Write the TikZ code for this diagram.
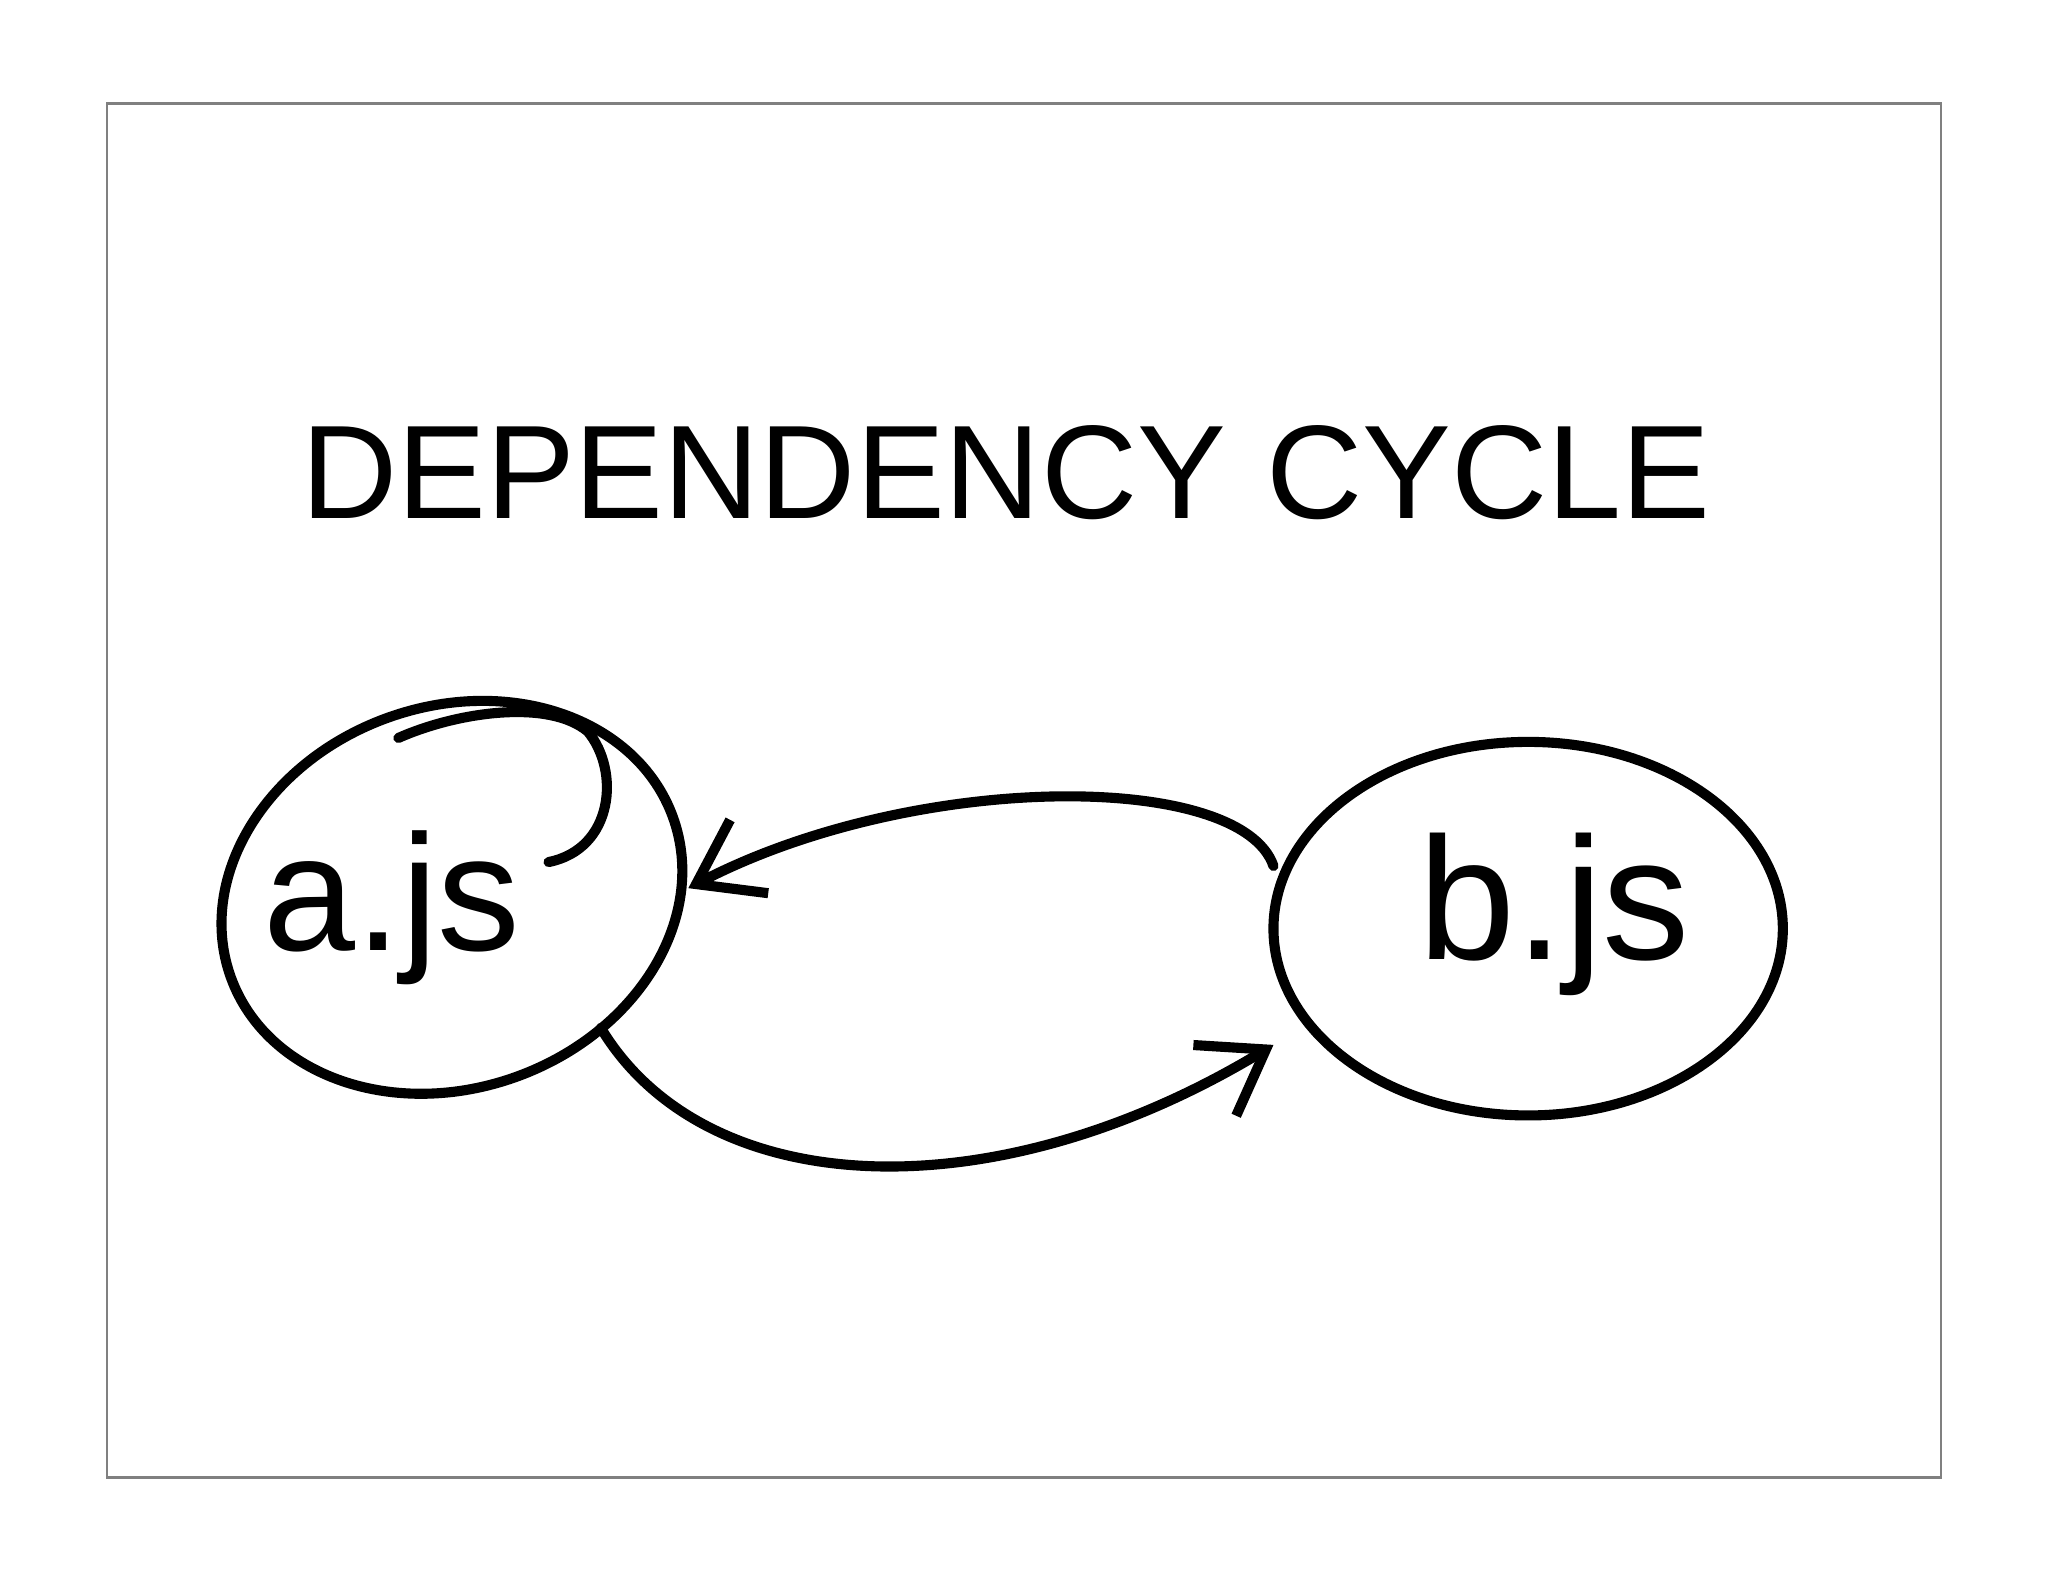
\documentclass[tikz,border=0pt]{standalone}
\usepackage{fontspec}
\setmainfont{Liberation Sans}
\usetikzlibrary{arrows.meta}
\begin{document}
\begin{tikzpicture}[x=0.01cm,y=-0.01cm,
  ink/.style={line width=2.2pt,black,line cap=round,line join=round},
  arr/.style={ink,-{Straight Barb[length=13pt,width=18pt,line width=2.2pt]}}]
\useasboundingbox (0,0) rectangle (1568,1211);
\draw[gray,line width=0.6pt] (82,79) rectangle (1486,1131);
\node (title) at (770,362) {\fontsize{29}{33}\selectfont DEPENDENCY\hspace{0.3em}CYCLE};
\draw[ink,rotate around={20:(346,687)}] (346,687) ellipse (180 and 146);
\coordinate (a) at (346,687);
\node (alab) at (300,695) {\fontsize{36}{40}\selectfont a.js};
\draw[ink] (420,660) .. controls (470,650) and (475,590) .. (450,560) .. controls (420,535) and (350,545) .. (305,565);
\draw[ink] (1170,711) ellipse (195 and 143);
\coordinate (b) at (1170,711);
\node (blab) at (1190,700) {\fontsize{38}{40}\selectfont b.js};
\draw[arr] (975,663) .. controls (950,590) and (700,590) .. (527,680);
\draw[arr] (460,787) .. controls (540,920) and (760,930) .. (975,800);
\end{tikzpicture}
\end{document}
